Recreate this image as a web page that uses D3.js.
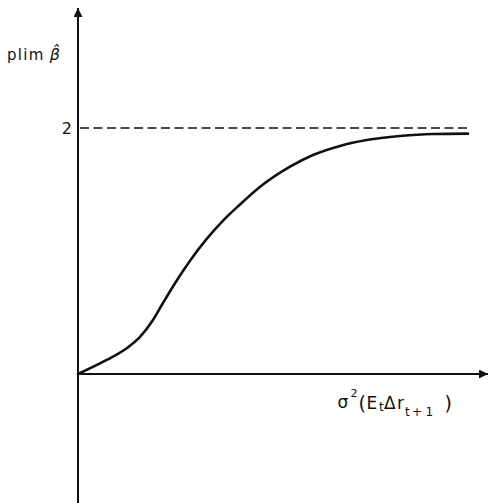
<!DOCTYPE html>
<meta charset="utf-8">
<script src="https://d3js.org/d3.v7.min.js"></script>
<style>
  body { margin: 0; background: #fff; }
  text { font-family: "DejaVu Sans", "Liberation Sans", sans-serif; fill: #111; }
</style>
<div id="my_dataviz"></div>
<script>
  // curve (x in arbitrary units, y = plim beta-hat)
  const xs = [0, 0.700, 1.188, 1.512, 1.829, 2.073, 2.366, 2.732, 3.139, 3.544, 3.951, 4.398, 5.171, 5.732, 6.390, 7.041, 7.854, 8.659, 9.512];
  const ys = [0, 0.114, 0.209, 0.301, 0.439, 0.577, 0.738, 0.921, 1.098, 1.249, 1.378, 1.510, 1.685, 1.780, 1.854, 1.902, 1.935, 1.951, 1.954];
  const asymptote = 2;
  const asymptoteEnd = 9.55;
  const yTicks = [2];

  var width = 488, height = 503;

  var svg = d3.select("#my_dataviz")
    .append("svg")
      .attr("width", width)
      .attr("height", height);

  var x = d3.scaleLinear().domain([0, 10]).range([78, 488]);
  var y = d3.scaleLinear().domain([0, 2]).range([374, 128]);

  // arrowheads
  var defs = svg.append("defs");
  defs.append("marker")
      .attr("id", "arrow")
      .attr("viewBox", "0 0 10 10")
      .attr("refX", 10).attr("refY", 5)
      .attr("markerWidth", 6).attr("markerHeight", 4.5)
      .attr("markerUnits", "strokeWidth")
      .attr("orient", "auto")
    .append("path")
      .attr("d", "M0,0 L10,5 L0,10 Z")
      .attr("fill", "#111");

  // vertical axis
  svg.append("line")
      .attr("x1", x(0)).attr("y1", 503)
      .attr("x2", x(0)).attr("y2", 8)
      .attr("stroke", "#111")
      .attr("stroke-width", 2)
      .attr("marker-end", "url(#arrow)");

  // horizontal axis
  svg.append("line")
      .attr("x1", x(0)).attr("y1", y(0))
      .attr("x2", 488).attr("y2", y(0))
      .attr("stroke", "#111")
      .attr("stroke-width", 2)
      .attr("marker-end", "url(#arrow)");

  // dashed asymptote
  svg.append("line")
      .attr("x1", x(0) + 2).attr("y1", y(asymptote))
      .attr("x2", x(asymptoteEnd)).attr("y2", y(asymptote))
      .attr("stroke", "#111")
      .attr("stroke-width", 1.4)
      .attr("stroke-dasharray", "9,4.5");

  // tick label
  svg.selectAll(".ytick")
    .data(yTicks)
    .enter()
    .append("text")
      .attr("class", "ytick")
      .attr("x", x(0) - 6)
      .attr("y", function(d) { return y(d) + 6; })
      .attr("text-anchor", "end")
      .style("font-size", "16px")
      .text(function(d) { return d; });

  // the curve
  var pts = xs.map(function(d, i) { return [d, ys[i]]; });
  svg.append("path")
      .datum(pts)
      .attr("fill", "none")
      .attr("stroke", "#111")
      .attr("stroke-width", 2.6)
      .attr("stroke-linecap", "round")
      .attr("d", d3.line()
        .x(function(d) { return x(d[0]); })
        .y(function(d) { return y(d[1]); })
        .curve(d3.curveMonotoneX));

  // y label: plim beta-hat
  var yl = svg.append("text")
      .attr("x", 7)
      .attr("y", 60)
      .style("font-size", "15px");
  yl.append("tspan").text("plim").style("letter-spacing", "1.3px");
  yl.append("tspan").text("β\u0302").attr("dx", 5).style("font-style", "italic").style("font-size", "16px");

  // x label: sigma^2(E_t Δr_{t+1}), pieces placed one by one
  function lab(t, px, py, size) {
    svg.append("text")
        .attr("x", px).attr("y", py)
        .style("font-size", size + "px")
        .text(t);
  }
  lab("σ", 337.5, 408, 17);
  lab("2", 350.5, 397, 11);
  lab("(", 358.5, 410, 19);
  lab("E", 366.5, 408.5, 17);
  lab("t", 379, 410.5, 12);
  lab("Δ", 384, 408.5, 17);
  lab("r", 397, 408.5, 17);
  lab("t", 405, 415.5, 12);
  lab("+", 412, 415.5, 12);
  lab("1", 425.5, 415.5, 12);
  lab(")", 444.5, 410, 19);
</script>
